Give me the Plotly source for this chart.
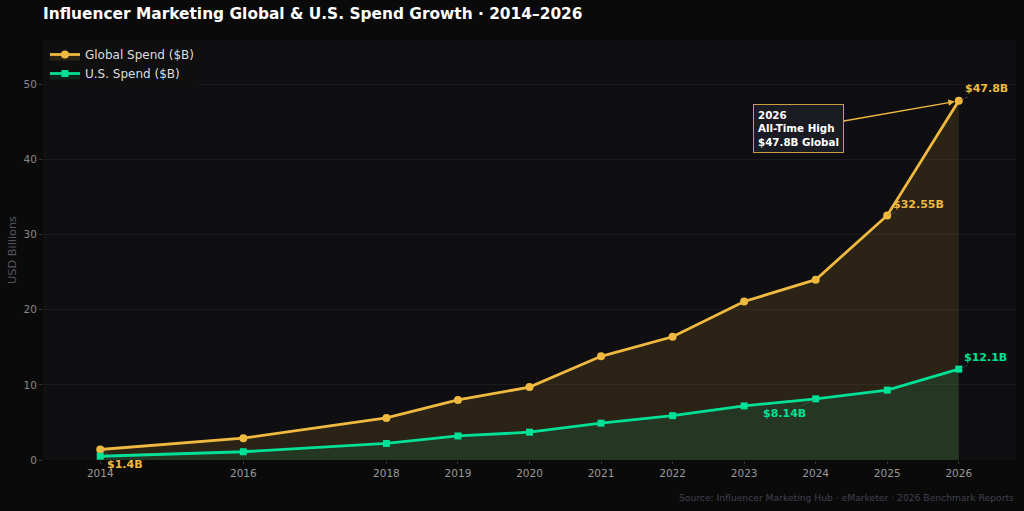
import plotly.graph_objects as go

years = [2014, 2016, 2018, 2019, 2020, 2021, 2022, 2023, 2024, 2025, 2026]
global_spend = [1.4, 2.9, 5.6, 8.0, 9.7, 13.8, 16.4, 21.1, 24.0, 32.55, 47.8]
us_spend = [0.5, 1.1, 2.2, 3.2, 3.7, 4.9, 5.9, 7.2, 8.14, 9.3, 12.1]
tick_years = years

GOLD = "#f0b940"
TEAL = "#00e096"
FONT = "DejaVu Sans"

fig = go.Figure()
fig.add_trace(go.Scatter(
    x=years, y=global_spend, name="Global Spend ($B)", mode="lines+markers",
    line=dict(color=GOLD, width=2.8), marker=dict(symbol="circle", size=8, color=GOLD),
    fill="tozeroy", fillcolor="rgba(240,185,64,0.12)",
))
fig.add_trace(go.Scatter(
    x=years, y=us_spend, name="U.S. Spend ($B)", mode="lines+markers",
    line=dict(color=TEAL, width=2.8), marker=dict(symbol="square", size=7, color=TEAL),
    fill="tozeroy", fillcolor="rgba(0,224,150,0.10)",
))

def label(x, y, text, color, ax, ay):
    return dict(x=x, y=y, xref="x", yref="y", text=f"<b>{text}</b>", showarrow=True,
                arrowhead=0, arrowwidth=1, arrowcolor="rgba(120,120,120,0.35)",
                ax=ax, ay=ay, font=dict(family=FONT, size=11, color=color))

annotations = [
    label(2026, 47.8, "$47.8B", GOLD, 28, -12),
    label(2025, 32.55, "$32.55B", GOLD, 31, -11),
    label(2014, 1.4, "$1.4B", GOLD, 25, 15),
    label(2026, 12.1, "$12.1B", TEAL, 27, -12),
    label(2024, 8.14, "$8.14B", TEAL, -31, 15),
    dict(x=2026, y=47.8, xref="x", yref="y",
         text="<b>2026<br>All-Time High<br>$47.8B Global</b>", align="left",
         showarrow=True, arrowhead=2, arrowsize=1, arrowwidth=1.3, arrowcolor=GOLD,
         ax=-160, ay=28, standoff=4,
         bgcolor="#1b1c23", bordercolor="#c9a040", borderwidth=1, borderpad=4,
         font=dict(family=FONT, size=10.3, color="#ffffff")),
    dict(x=1016/1024, y=13/511, xref="paper", yref="paper", xanchor="right", yanchor="middle",
         text="Source: Influencer Marketing Hub · eMarketer · 2026 Benchmark Reports",
         showarrow=False, font=dict(family=FONT, size=9.2, color="#40404e")),
]
# put the source note in container coordinates
annotations[-1].update(xref="paper", yref="paper", x=1.0, y=-(498 - 460) / 420)

fig.update_layout(
    width=1024, height=511,
    paper_bgcolor="#0a0a0a", plot_bgcolor="#0f0f11",
    margin=dict(l=43, r=8, t=40, b=51),
    font=dict(family=FONT, color="#cccccc"),
    title=dict(text="<b>Influencer Marketing Global & U.S. Spend Growth · 2014–2026</b>",
               x=43/1024, xref="container", xanchor="left",
               y=1 - 14/511, yref="container", yanchor="middle",
               font=dict(family=FONT, size=15.4, color="#ffffff")),
    legend=dict(x=0.002, y=1.0, xanchor="left", yanchor="top",
                bgcolor="rgba(15,15,17,0.85)", bordercolor="rgba(0,0,0,0)",
                font=dict(family=FONT, size=12, color="#dddddd"),
                itemwidth=30, tracegroupgap=0),
    showlegend=True,
    annotations=annotations,
    xaxis=dict(range=[2013.2, 2026.8], tickmode="array", tickvals=tick_years,
               ticktext=[str(y) for y in tick_years], showgrid=False, zeroline=False,
               showline=False, ticks="outside", ticklen=3, tickcolor="#333333",
               tickfont=dict(family=FONT, size=10.5, color="#999999")),
    yaxis=dict(range=[0, 55.9], tickvals=[0, 10, 20, 30, 40, 50], showgrid=True,
               gridcolor="#1b1b1e", gridwidth=1, zeroline=False, showline=False,
               ticks="outside", ticklen=3, tickcolor="#333333",
               tickfont=dict(family=FONT, size=10.5, color="#888888"),
               title=dict(text="USD Billions", standoff=4,
                          font=dict(family=FONT, size=11.3, color="#555560"))),
    hovermode=False,
)

fig.write_html("out.html")
